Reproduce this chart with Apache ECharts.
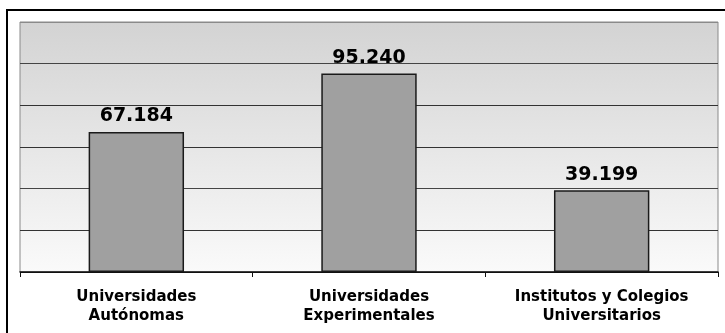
<!DOCTYPE html>
<html>
<head>
<meta charset="utf-8">
<script src="https://cdn.jsdelivr.net/npm/echarts@6/dist/echarts.min.js"></script>
<style>
  html, body { margin: 0; padding: 0; background: #ffffff; }
  #chart { width: 725px; height: 333px; }
</style>
</head>
<body>
<div id="chart"></div>
<script>
const categories = ['Universidades\nAutónomas', 'Universidades\nExperimentales', 'Institutos y Colegios\nUniversitarios'];
const values = [67184, 95240, 39199];
const valueLabels = ['67.184', '95.240', '39.199'];
const yMin = 0;
const yMax = 120000;
const yInterval = 20000;

const chart = echarts.init(document.getElementById('chart'), null, { renderer: 'canvas' });
const option = {
  animation: false,
  backgroundColor: '#ffffff',
  grid: {
    left: 20, top: 22, right: 7, bottom: 61,
    show: true,
    borderColor: '#8a8a8a',
    borderWidth: 1,
    backgroundColor: {
      type: 'linear', x: 0, y: 0, x2: 0, y2: 1,
      colorStops: [
        { offset: 0, color: '#d3d3d3' },
        { offset: 1, color: '#fafafa' }
      ]
    }
  },
  xAxis: {
    type: 'category',
    data: categories,
    axisLine: { show: true, lineStyle: { color: '#111', width: 1.5 } },
    axisTick: { show: true, alignWithLabel: false, length: 5, lineStyle: { color: '#111', width: 1 } },
    axisLabel: {
      interval: 0,
      margin: 16,
      fontFamily: 'DejaVu Sans',
      fontWeight: 'bold',
      fontSize: 15,
      lineHeight: 19,
      color: '#000'
    }
  },
  yAxis: {
    type: 'value',
    min: yMin, max: yMax, interval: yInterval,
    axisLine: { show: false },
    axisTick: { show: false },
    axisLabel: { show: false },
    splitLine: {
      show: true,
      lineStyle: { color: ['#111', '#333', '#444', '#333', '#333', '#444', '#8a8a8a'], width: 1 }
    }
  },
  series: [{
    type: 'bar',
    data: values,
    barWidth: '41%',
    itemStyle: { color: '#a0a0a0', borderColor: '#1a1a1a', borderWidth: 1.5 },
    label: {
      show: true,
      position: 'top',
      distance: 6,
      fontFamily: 'DejaVu Sans',
      fontWeight: 'bold',
      fontSize: 19,
      color: '#000',
      formatter: function (p) { return valueLabels[p.dataIndex]; }
    }
  }],
  graphic: [{
    type: 'rect',
    silent: true,
    z: 100,
    shape: { x: 7, y: 10, width: 800, height: 400 },
    style: { fill: 'none', stroke: '#000', lineWidth: 2 }
  }]
};
chart.setOption(option);
</script>
</body>
</html>
